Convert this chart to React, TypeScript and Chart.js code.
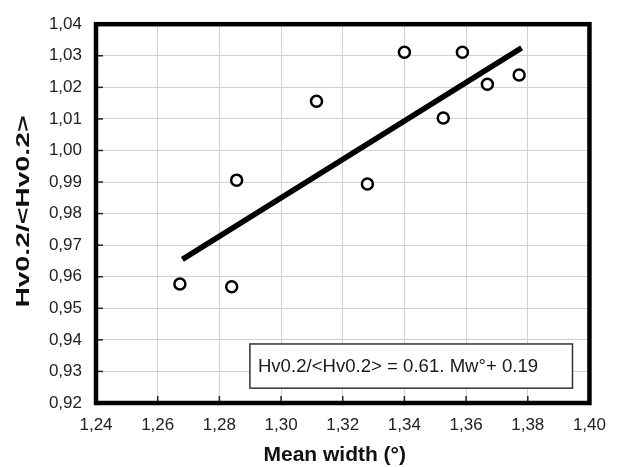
import React, { useEffect, useRef } from "react";
import { Chart, registerables } from "chart.js";

Chart.register(...registerables);

// Data
const meanWidth = [1.2672, 1.284, 1.2856, 1.3115, 1.328, 1.34, 1.3526, 1.3588, 1.3669, 1.3772];
const hvRatio = [0.9577, 0.9568, 0.9906, 1.0156, 0.9894, 1.0311, 1.0103, 1.0311, 1.021, 1.0239];
const fitX = [1.268, 1.378];
const fitY = [0.9655, 1.0325];
const xRange = [1.24, 1.4];
const yRange = [0.92, 1.04];
const xStep = 0.02;
const yStep = 0.01;
const equationText = "Hv0.2/<Hv0.2> = 0.61. Mw°+ 0.19";
const equationBoxX = [1.2899, 1.3945];
const equationBoxY = [0.9387, 0.9247];
const xTitle = "Mean width (°)";
const yTitle = "Hv0.2/<Hv0.2>";

const FONT = "'Liberation Sans', Arial, sans-serif";

const decorPlugin = {
  id: "decor",
  afterDraw(chart: any) {
    const { ctx, chartArea } = chart;
    const xs = chart.scales.x;
    const ys = chart.scales.y;
    ctx.save();
    // inner tick marks
    ctx.strokeStyle = "#222";
    ctx.lineWidth = 1.5;
    xs.ticks.forEach((t: any) => {
      const px = xs.getPixelForValue(t.value);
      if (px <= chartArea.left + 3 || px >= chartArea.right - 3) return;
      ctx.beginPath();
      ctx.moveTo(px, chartArea.bottom);
      ctx.lineTo(px, chartArea.bottom - 7);
      ctx.stroke();
    });
    ys.ticks.forEach((t: any) => {
      const py = ys.getPixelForValue(t.value);
      if (py <= chartArea.top + 3 || py >= chartArea.bottom - 3) return;
      ctx.beginPath();
      ctx.moveTo(chartArea.left, py);
      ctx.lineTo(chartArea.left + 7, py);
      ctx.stroke();
    });
    // frame
    ctx.strokeStyle = "#000";
    ctx.lineWidth = 4.5;
    ctx.strokeRect(chartArea.left, chartArea.top, chartArea.right - chartArea.left, chartArea.bottom - chartArea.top);
    // equation box
    const bx0 = xs.getPixelForValue(equationBoxX[0]);
    const bx1 = xs.getPixelForValue(equationBoxX[1]);
    const by0 = ys.getPixelForValue(equationBoxY[0]);
    const by1 = ys.getPixelForValue(equationBoxY[1]);
    ctx.fillStyle = "#fff";
    ctx.fillRect(bx0, by0, bx1 - bx0, by1 - by0);
    ctx.strokeStyle = "#333";
    ctx.lineWidth = 1.5;
    ctx.strokeRect(bx0, by0, bx1 - bx0, by1 - by0);
    ctx.fillStyle = "#1a1a1a";
    ctx.font = `18.6px ${FONT}`;
    ctx.textAlign = "left";
    ctx.textBaseline = "middle";
    ctx.fillText(equationText, bx0 + 8, (by0 + by1) / 2 + 1);
    // x title
    ctx.fillStyle = "#111";
    ctx.font = `bold 21px ${FONT}`;
    ctx.textAlign = "center";
    ctx.textBaseline = "middle";
    ctx.fillText(xTitle, (chartArea.left + chartArea.right) / 2 - 8, chart.height - 12);
    // y title (stretched)
    ctx.translate(24, (chartArea.top + chartArea.bottom) / 2 - 2);
    ctx.rotate(-Math.PI / 2);
    ctx.scale(1.49, 1);
    ctx.font = `bold 19px ${FONT}`;
    ctx.fillText(yTitle, 0, 0);
    ctx.restore();
  },
};

export default function App() {
  const ref = useRef<HTMLCanvasElement | null>(null);
  useEffect(() => {
    if (!ref.current) return;
    const fmt = (v: any) => Number(v).toFixed(2).replace(".", ",");
    const chart = new Chart(ref.current, {
      type: "scatter",
      data: {
        datasets: [
          {
            label: "fit",
            data: fitX.map((x, i) => ({ x, y: fitY[i] })),
            showLine: true,
            borderColor: "#000",
            borderWidth: 5.5,
            pointRadius: 0,
            order: 2,
          },
          {
            label: "data",
            data: meanWidth.map((x, i) => ({ x, y: hvRatio[i] })),
            pointRadius: 5.5,
            pointBorderWidth: 2.5,
            borderColor: "#000",
            backgroundColor: "#fff",
            order: 1,
          },
        ],
      },
      options: {
        animation: false,
        responsive: true,
        maintainAspectRatio: false,
        layout: { padding: { top: 24, right: 28, left: 0, bottom: 0 } },
        plugins: { legend: { display: false }, tooltip: { enabled: false } },
        scales: {
          x: {
            type: "linear",
            min: xRange[0],
            max: xRange[1],
            ticks: {
              stepSize: xStep,
              callback: fmt,
              font: { family: FONT, size: 17 },
              color: "#222",
              padding: 12,
              maxRotation: 0,
            },
            grid: { color: "#d2d2d2", lineWidth: 1, drawTicks: false },
            border: { display: false },
            afterFit: (s: any) => {
              s.height = 64;
            },
          },
          y: {
            type: "linear",
            min: yRange[0],
            max: yRange[1],
            ticks: {
              stepSize: yStep,
              callback: fmt,
              font: { family: FONT, size: 17 },
              color: "#222",
              padding: 14,
            },
            grid: { color: "#d2d2d2", lineWidth: 1, drawTicks: false },
            border: { display: false },
            afterFit: (s: any) => {
              s.width = 96;
            },
          },
        },
      },
      plugins: [decorPlugin],
    });
    return () => chart.destroy();
  }, []);
  return (
    <div style={{ position: "absolute", left: 0, top: 0, width: 618, height: 467, background: "#fff" }}>
      <canvas ref={ref} />
    </div>
  );
}
